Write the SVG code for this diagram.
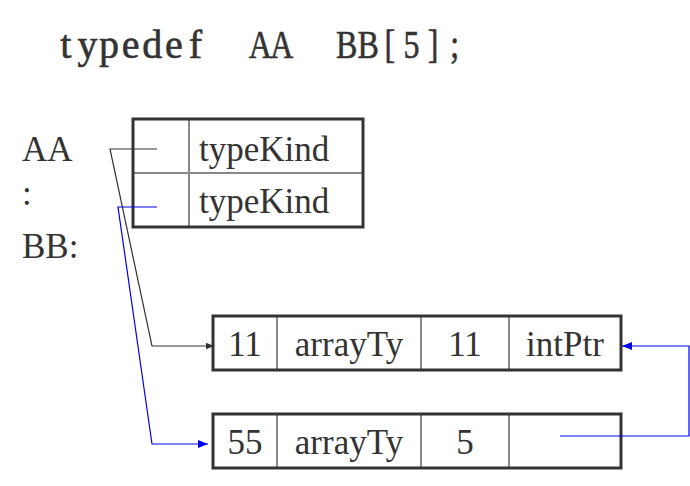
<svg xmlns="http://www.w3.org/2000/svg" width="690" height="486" viewBox="0 0 690 486">
<defs>
<style>
.t{font-family:"Liberation Serif","Times New Roman",serif;font-size:35px;fill:#333}
.c{text-anchor:middle}
.code{font-family:"Liberation Serif","Times New Roman",serif;font-size:40px;fill:#333;stroke:#333;stroke-width:0.6;text-anchor:middle}
.outer{fill:none;stroke:#333;stroke-width:3}
.inner{stroke:#888;stroke-width:2}
.blk{fill:none;stroke:#333;stroke-width:1.2}
.blu{fill:none;stroke:#0000ee;stroke-width:1.2}
</style>
<marker id="ab" viewBox="0 0 10 10" refX="10" refY="5" markerWidth="8" markerHeight="8" markerUnits="userSpaceOnUse" orient="auto"><path d="M0,1 L10,5 L0,9 z" fill="#333"/></marker>
<marker id="au" viewBox="0 0 10 10" refX="10" refY="5" markerWidth="10" markerHeight="10" markerUnits="userSpaceOnUse" orient="auto"><path d="M0,1 L10,5 L0,9 z" fill="#0000ee"/></marker>
</defs>
<rect width="690" height="486" fill="#fff"/>
<g id="title">
<text class="code" y="58" x="65.8 87.4 109 130.6 152.2 173.8 195.4">typedef</text>
<g transform="scale(0.8,1)">
<text class="code" y="58" x="325.25 352.25 433.25 460.25 487.25 514.25 541.25 568.25">AABB[5];</text>
</g>
</g>
<g id="labels">
<text class="t" x="22" y="161">AA</text>
<text class="t" x="22" y="205">:</text>
<text class="t" x="22" y="258">BB:</text>
</g>
<g id="typeTable">
<line class="inner" x1="189" y1="119" x2="189" y2="227"/>
<line class="inner" x1="133" y1="173" x2="363" y2="173"/>
<rect class="outer" x="133" y="119" width="230" height="108"/>
<text class="t" x="199" y="161">typeKind</text>
<text class="t" x="199" y="213">typeKind</text>
</g>
<g id="record1">
<line class="inner" x1="277" y1="316" x2="277" y2="370"/>
<line class="inner" x1="421" y1="316" x2="421" y2="370"/>
<line class="inner" x1="509" y1="316" x2="509" y2="370"/>
<rect class="outer" x="213" y="316" width="408" height="54"/>
<text class="t c" x="245" y="356">11</text>
<text class="t c" x="349" y="356">arrayTy</text>
<text class="t c" x="465" y="356">11</text>
<text class="t c" x="565" y="356">intPtr</text>
</g>
<g id="record2">
<line class="inner" x1="277" y1="414" x2="277" y2="468"/>
<line class="inner" x1="421" y1="414" x2="421" y2="468"/>
<line class="inner" x1="509" y1="414" x2="509" y2="468"/>
<rect class="outer" x="213" y="414" width="408" height="54"/>
<text class="t c" x="245" y="454">55</text>
<text class="t c" x="349" y="454">arrayTy</text>
<text class="t c" x="465" y="454">5</text>
</g>
<g id="connectors">
<polyline class="blk" points="157,149 110,149 152,346 214,346" marker-end="url(#ab)"/>
<polyline class="blu" points="157,207 118,207 152,444 208,444" marker-end="url(#au)"/>
<polyline class="blu" points="560,436 689,436 689,346 622,346" marker-end="url(#au)"/>
</g>
</svg>
